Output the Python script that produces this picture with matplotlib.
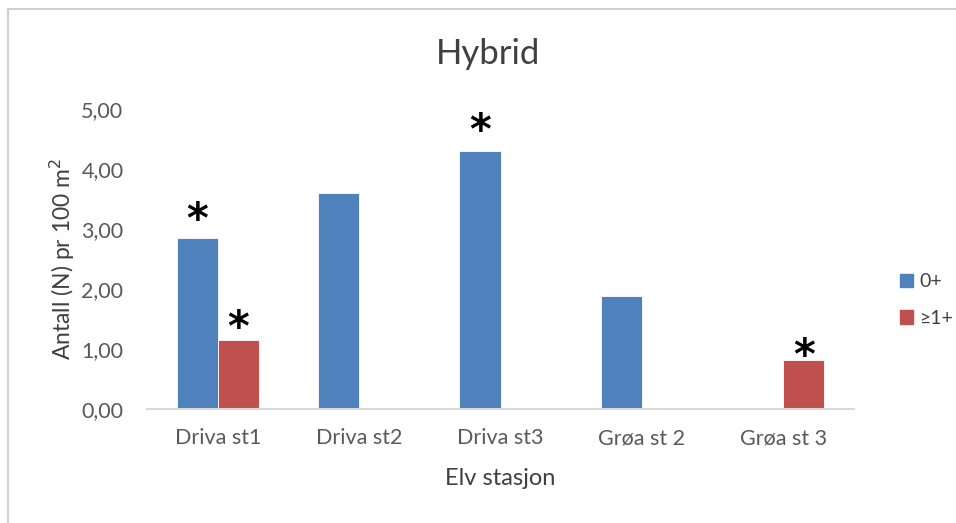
import numpy as np
import matplotlib.pyplot as plt
from matplotlib.lines import Line2D

# data
stations = ["Driva st1", "Driva st2", "Driva st3", "Grøa st 2", "Grøa st 3"]
age_0 = [2.85, 3.60, 4.30, 1.89, 0.0]
age_1plus = [1.15, 0.0, 0.0, 0.0, 0.82]
series_names = ["0+", "≥1+"]
# significance markers: (station index, series index, gap above bar in px)
stars = [(0, 0, 26), (0, 1, 20), (2, 0, 28), (4, 1, 12)]
yticks = [0, 1, 2, 3, 4, 5]

blue = "#4f81bd"
red = "#c0504d"
txt = "#404040"
tickc = "#595959"

plt.rcParams['font.family'] = ['Lato', 'DejaVu Sans']

fig = plt.figure(figsize=(9.56, 5.23), dpi=100)
ax = fig.add_axes([147 / 956, 1 - 409 / 523, (854 - 147) / 956, (409 - 109) / 523])

x = np.arange(len(stations))
w = 0.29
b0 = ax.bar(x - w / 2, age_0, w, color=blue, edgecolor="white", linewidth=0.6, label=series_names[0])
b1 = ax.bar(x + w / 2, age_1plus, w, color=red, edgecolor="white", linewidth=0.6, label=series_names[1])
# hide zero-height bars
for bars in (b0, b1):
    for r in bars:
        if r.get_height() == 0:
            r.set_visible(False)

ax.set_xlim(-0.5, len(stations) - 0.5)
ax.set_ylim(0, 5)
ax.set_yticks(yticks)
ax.set_yticklabels([f"{v:.2f}".replace(".", ",") for v in yticks])
ax.set_xticks(x)
ax.set_xticklabels(stations)
ax.tick_params(length=0, labelsize=15.5, colors=tickc)
ax.tick_params(axis="y", pad=17)
ax.tick_params(axis="x", pad=14)
for s in ["top", "right", "left"]:
    ax.spines[s].set_visible(False)
ax.spines["bottom"].set_color("#d9d9d9")
ax.spines["bottom"].set_linewidth(1.5)

ax.set_ylabel("Antall (N) pr 100 m$^2$", fontsize=16.5, color=txt, labelpad=3)
ax.set_xlabel("Elv stasjon", fontsize=17, color=txt, labelpad=14)
fig.text(0.511, 1 - 54 / 523, "Hybrid", fontsize=25, color=txt, ha="center", va="center")

# asterisks above bars
vals = [age_0, age_1plus]
for i, s, gap in stars:
    xi = x[i] + (-w / 2 if s == 0 else w / 2)
    ax.annotate("*", (xi, vals[s][i]), xytext=(0, (gap - 9) * 0.72), textcoords="offset points",
                ha="center", va="center", fontsize=30, fontweight="bold", color="black",
                family="DejaVu Sans")

handles = [plt.Rectangle((0, 0), 1, 1, color=blue), plt.Rectangle((0, 0), 1, 1, color=red)]
fig.legend(handles, series_names, loc="center left", bbox_to_anchor=(882 / 956, 1 - 300 / 523),
           frameon=False, fontsize=14, labelcolor=txt, handlelength=0.7, handleheight=0.7,
           handletextpad=0.3, labelspacing=1.0)

# chart frame
fig.add_artist(Line2D([8 / 956, 8 / 956], [0, 1 - 9 / 523], color="#d0d0d0", lw=1.5))
fig.add_artist(Line2D([8 / 956, 1], [1 - 9 / 523, 1 - 9 / 523], color="#d0d0d0", lw=1.5))

fig.savefig("out.png", dpi=100)
